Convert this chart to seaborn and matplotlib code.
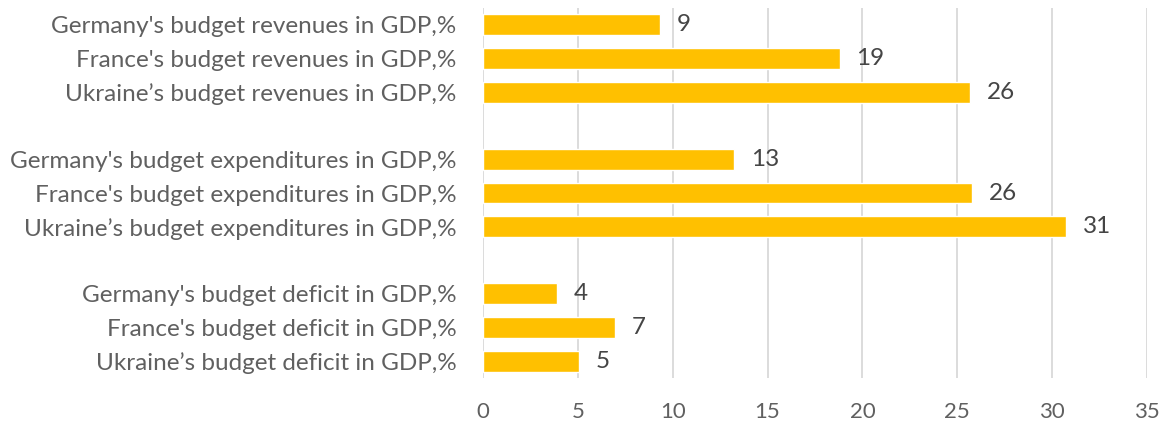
import matplotlib
matplotlib.use("Agg")
import matplotlib.pyplot as plt
import seaborn as sns
import pandas as pd
import numpy as np

categories = [
    "Germany's budget revenues in GDP,%",
    "France's budget revenues in GDP,%",
    "Ukraine\u2019s budget revenues in GDP,%",
    " ",
    "Germany's budget expenditures in GDP,%",
    "France's budget expenditures in GDP,%",
    "Ukraine\u2019s budget expenditures in GDP,%",
    "  ",
    "Germany's budget deficit in GDP,%",
    "France's budget deficit in GDP,%",
    "Ukraine\u2019s budget deficit in GDP,%",
]
values = [9.34, 18.8, 25.68, np.nan, 13.25, 25.77, 30.74, np.nan, 3.88, 6.94, 5.06]
x_ticks = [0, 5, 10, 15, 20, 25, 30, 35]

sns.set_theme(style="white")
plt.rcParams['font.family'] = ['Lato', 'DejaVu Sans']

df = pd.DataFrame({"cat": categories, "val": values})

fig = plt.figure(figsize=(11.63, 4.25), dpi=100)
ax = fig.add_axes([483/1163, 1-378/425, (1147-483)/1163, (378-8)/425])

sns.barplot(data=df.dropna(), x="val", y="cat", order=categories, color="#FFC000",
            saturation=1, width=0.62, ax=ax)

for c in ax.containers:
    ax.bar_label(c, fmt="%.0f", padding=12, fontsize=17.5, color="#454545")

ax.set_xlim(0, 35)
ax.set_xticks(x_ticks)
ax.set_xlabel("")
ax.set_ylabel("")
ax.grid(axis="x", color="#D9D9D9", linewidth=1.3)
ax.set_axisbelow(True)
for s in ax.spines.values():
    s.set_visible(False)
ax.tick_params(axis="both", length=0, labelcolor="#606060")
ax.tick_params(axis="x", pad=17, labelsize=16)
ax.tick_params(axis="y", pad=19, labelsize=17.5)

fig.savefig("out.png", dpi=100)
